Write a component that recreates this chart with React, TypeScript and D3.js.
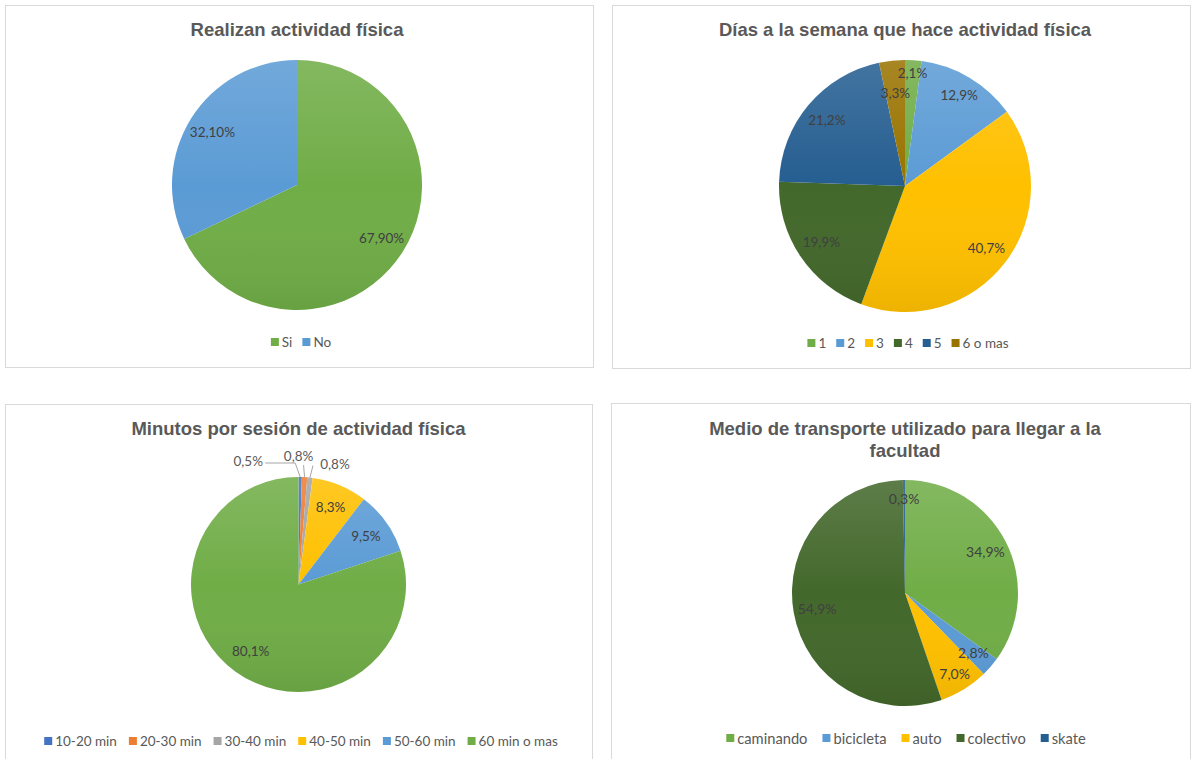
import React from "react";
import * as d3 from "d3";

// ---------- DATA ----------
const actividadCategories = ["Si", "No"];
const actividadValues = [67.9, 32.1];

const diasCategories = ["1", "2", "3", "4", "5", "6 o mas"];
const diasValues = [2.1, 12.9, 40.7, 19.9, 21.2, 3.3];

const minutosCategories = ["10-20 min", "20-30 min", "30-40 min", "40-50 min", "50-60 min", "60 min o mas"];
const minutosValues = [0.5, 0.8, 0.8, 8.3, 9.5, 80.1];

const transporteCategories = ["caminando", "bicicleta", "auto", "colectivo", "skate"];
const transporteValues = [34.9, 2.8, 7.0, 54.9, 0.3];

// ---------- STYLE / LAYOUT ----------
const W = 1193;
const H = 759;
const TITLE_FONT = "'Liberation Sans', Arial, sans-serif";
const BODY_FONT = "Lato, 'Open Sans', sans-serif";
const TITLE_COLOR = "#595959";
const LABEL_COLOR = "#404040";
const LEGEND_COLOR = "#595959";

let measureCtx: CanvasRenderingContext2D | null = null;
function measure(text: string, font: string): number {
  if (!measureCtx) measureCtx = document.createElement("canvas").getContext("2d");
  if (!measureCtx) return text.length * 7;
  measureCtx.font = font;
  return measureCtx.measureText(text).width;
}

function fmt(v: number, decimals: number) {
  return v.toFixed(decimals).replace(".", ",") + "%";
}

type Outside = { dx: number; dy: number; leader: [number, number][] } | null;

interface PieProps {
  id: string;
  title: string[];
  categories: string[];
  values: number[];
  colors: string[];
  decimals: number;
  box: [number, number, number, number];
  cx: number;
  cy: number;
  r: number;
  titleY: number;
  legendY: number;
  legendCx: number;
  legendSize: number;
  legendGap: number;
  labelSize: number;
  labelRadius: number[];
  outside?: Outside[];
}

function PieChart(p: PieProps) {
  const pie = d3
    .pie<number>()
    .sort(null)
    .value((d) => d)
    .startAngle(0)
    .endAngle(Math.PI * 2);
  const arcs = pie(p.values);
  const arcGen = d3.arc<d3.PieArcDatum<number>>().innerRadius(0).outerRadius(p.r);

  // legend
  const legendFont = `${p.legendSize}px ${BODY_FONT}`;
  const sq = 8;
  const gapSqText = 3;
  const widths = p.categories.map((c) => sq + gapSqText + measure(c, legendFont));
  const total = widths.reduce((a, b) => a + b, 0) + p.legendGap * (p.categories.length - 1);
  const [bx0, by0, bx1, by1] = p.box;
  let lx = p.legendCx - total / 2;
  const legendItems = p.categories.map((c, i) => {
    const x = lx;
    lx += widths[i] + p.legendGap;
    return { c, x, color: p.colors[i] };
  });

  return (
    <g>
      <defs>
        <linearGradient id={`shade-${p.id}`} x1="0" y1="0" x2="0" y2="1">
          <stop offset="0%" stopColor="#ffffff" stopOpacity={0.14} />
          <stop offset="50%" stopColor="#ffffff" stopOpacity={0} />
          <stop offset="100%" stopColor="#000000" stopOpacity={0.07} />
        </linearGradient>
      </defs>
      <rect x={bx0 + 0.5} y={by0 + 0.5} width={bx1 - bx0} height={by1 - by0} fill="#ffffff" stroke="#d9d9d9" strokeWidth={1} />
      {p.title.map((t, i) => (
        <text
          key={i}
          x={p.cx}
          y={p.titleY + i * 22}
          textAnchor="middle"
          dominantBaseline="central"
          fontFamily={TITLE_FONT}
          fontWeight="bold"
          fontSize={18.5}
          fill={TITLE_COLOR}
        >
          {t}
        </text>
      ))}
      <g transform={`translate(${p.cx},${p.cy})`}>
        {arcs.map((a, i) => (
          <path key={i} d={arcGen(a) || ""} fill={p.colors[i]} />
        ))}
        <circle r={p.r} fill={`url(#shade-${p.id})`} />
        {arcs.map((a, i) => {
          const mid = (a.startAngle + a.endAngle) / 2;
          const o = p.outside ? p.outside[i] : null;
          const label = fmt(p.values[i], p.decimals);
          if (o) {
            const ex = Math.sin(mid) * p.r;
            const ey = -Math.cos(mid) * p.r;
            const pts = [[ex, ey], ...o.leader.map(([x, y]) => [ex + x, ey + y])];
            return (
              <g key={"l" + i}>
                <polyline
                  points={pts.map((q) => q.join(",")).join(" ")}
                  fill="none"
                  stroke="#a6a6a6"
                  strokeWidth={1}
                />
                <text
                  x={ex + o.dx}
                  y={ey + o.dy}
                  textAnchor="middle"
                  dominantBaseline="central"
                  fontFamily={BODY_FONT}
                  fontSize={p.labelSize}
                  fill="#595959"
                >
                  {label}
                </text>
              </g>
            );
          }
          const rr = p.labelRadius[i] * p.r;
          return (
            <text
              key={"l" + i}
              x={Math.sin(mid) * rr}
              y={-Math.cos(mid) * rr}
              textAnchor="middle"
              dominantBaseline="central"
              fontFamily={BODY_FONT}
              fontSize={p.labelSize}
              fill={LABEL_COLOR}
            >
              {label}
            </text>
          );
        })}
      </g>
      {legendItems.map((it, i) => (
        <g key={"lg" + i}>
          <rect x={it.x} y={p.legendY - sq / 2} width={sq} height={sq} fill={it.color} />
          <text
            x={it.x + sq + gapSqText}
            y={p.legendY}
            dominantBaseline="central"
            fontFamily={BODY_FONT}
            fontSize={p.legendSize}
            fill={LEGEND_COLOR}
          >
            {it.c}
          </text>
        </g>
      ))}
    </g>
  );
}

const GREEN = "#70AD47";
const BLUE = "#5B9BD5";
const GOLD = "#FFC000";
const DKGREEN = "#43682B";
const DKBLUE = "#255E91";
const BROWN = "#997300";
const ORANGE = "#ED7D31";
const GRAY = "#A5A5A5";
const ROYAL = "#4472C4";

export default function App() {
  return (
    <svg
      width={W}
      height={H}
      style={{ position: "absolute", left: 0, top: 0, background: "#ffffff" }}
    >
      <rect x={0} y={0} width={W} height={H} fill="#ffffff" />
      <PieChart
        id="a"
        title={["Realizan actividad física"]}
        categories={actividadCategories}
        values={actividadValues}
        colors={[GREEN, BLUE]}
        decimals={2}
        box={[5, 5, 593, 367]}
        cx={297}
        cy={185}
        r={125}
        titleY={29}
        legendY={342}
        legendCx={301}
        legendSize={13.5}
        legendGap={10}
        labelSize={13.5}
        labelRadius={[0.8, 0.8]}
      />
      <PieChart
        id="b"
        title={["Días a la semana que hace actividad física"]}
        categories={diasCategories}
        values={diasValues}
        colors={[GREEN, BLUE, GOLD, DKGREEN, DKBLUE, BROWN]}
        decimals={1}
        box={[612, 5, 1190, 368]}
        cx={905}
        cy={186}
        r={126}
        titleY={29}
        legendY={343}
        legendCx={908}
        legendSize={13.5}
        legendGap={10}
        labelSize={13.5}
        labelRadius={[0.9, 0.84, 0.81, 0.8, 0.81, 0.74]}
      />
      <PieChart
        id="c"
        title={["Minutos por sesión de actividad física"]}
        categories={minutosCategories}
        values={minutosValues}
        colors={[ROYAL, ORANGE, GRAY, GOLD, BLUE, GREEN]}
        decimals={1}
        box={[5, 404, 592, 775]}
        cx={298.5}
        cy={584.5}
        r={107.5}
        titleY={428}
        legendY={741}
        legendCx={301}
        legendSize={13.5}
        legendGap={12}
        labelSize={13.5}
        labelRadius={[0.8, 0.8, 0.8, 0.78, 0.77, 0.76]}
        outside={[
          { dx: -52, dy: -16, leader: [[-5, -14], [-35, -14]] },
          { dx: -6, dy: -21, leader: [[-1, -12]] },
          { dx: 25, dy: -14, leader: [[3, -12]] },
          null,
          null,
          null,
        ]}
      />
      <PieChart
        id="d"
        title={["Medio de transporte utilizado para llegar a la", "facultad"]}
        categories={transporteCategories}
        values={transporteValues}
        colors={[GREEN, BLUE, GOLD, DKGREEN, DKBLUE]}
        decimals={1}
        box={[611, 403, 1190, 775]}
        cx={905}
        cy={593}
        r={113}
        titleY={428}
        legendY={738}
        legendCx={906}
        legendSize={14.7}
        legendGap={15}
        labelSize={14}
        labelRadius={[0.8, 0.8, 0.84, 0.79, 0.84]}
      />
    </svg>
  );
}
